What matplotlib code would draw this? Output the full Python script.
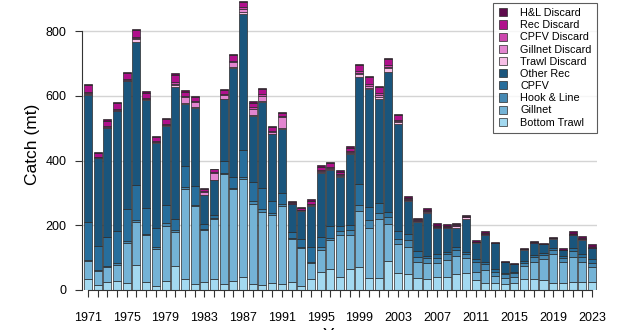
import numpy as np
import matplotlib.pyplot as plt

plt.rcParams['font.family'] = ['Liberation Sans', 'DejaVu Sans']

years = np.arange(1971, 2024)

bottom_trawl = [33, 15, 26, 29, 21, 76, 25, 12, 29, 75,
                33, 17, 25, 33, 19, 28, 41, 19, 14, 23,
                19, 26, 12, 33, 55, 65, 39, 65, 70, 36,
                36, 89, 53, 48, 36, 33, 39, 40, 49, 53,
                31, 23, 23, 19, 21, 33, 33, 31, 23, 23,
                26, 26, 25]
gillnet = [57, 44, 46, 48, 123, 135, 145, 116, 169, 103,
           278, 242, 160, 185, 339, 283, 301, 246, 228, 208,
           240, 133, 117, 49, 70, 91, 131, 105, 174, 156,
           182, 114, 88, 86, 49, 49, 45, 53, 56, 47,
           26, 39, 21, 19, 20, 41, 54, 64, 87, 64,
           77, 61, 47]
hook_line = [2, 3, 3, 5, 6, 4, 3, 5, 8, 7,
             6, 3, 4, 6, 2, 5, 6, 10, 7, 6,
             6, 3, 5, 5, 9, 6, 11, 15, 18, 24,
             19, 23, 16, 22, 18, 16, 16, 18, 20, 11,
             30, 17, 13, 11, 10, 10, 14, 13, 13, 11,
             18, 16, 12]
cpfv = [117, 74, 90, 100, 100, 108, 80, 59, 56, 34,
        67, 59, 15, 7, 39, 34, 86, 59, 67, 39,
        36, 16, 24, 45, 29, 37, 18, 16, 64, 41,
        33, 16, 25, 16, 18, 8, 10, 7, 9, 5,
        8, 6, 7, 4, 6, 5, 7, 5, 6, 7,
        8, 8, 11]
other_rec = [394, 272, 336, 370, 395, 443, 335, 263, 245, 408,
             192, 242, 89, 108, 190, 337, 419, 204, 265, 205,
             196, 87, 87, 128, 197, 171, 149, 219, 332, 365,
             321, 432, 332, 103, 90, 133, 82, 74, 58, 103,
             51, 85, 80, 32, 22, 36, 38, 28, 30, 18,
             41, 45, 34]
trawl_discard = [2, 1, 1, 2, 2, 8, 1, 1, 2, 6,
                 2, 2, 1, 1, 2, 3, 6, 2, 2, 2,
                 2, 1, 1, 2, 5, 3, 3, 4, 10, 3,
                 4, 11, 6, 2, 1, 3, 1, 1, 5, 6,
                 1, 1, 0, 0, 0, 1, 0, 0, 1, 0,
                 1, 1, 0]
gillnet_discard = [3, 1, 2, 3, 2, 4, 2, 2, 2, 4,
                   17, 16, 10, 23, 13, 14, 10, 20, 17, 6,
                   36, 1, 1, 3, 3, 4, 3, 2, 3, 4,
                   8, 4, 2, 1, 1, 1, 1, 1, 1, 1,
                   0, 1, 0, 0, 0, 0, 0, 0, 0, 0,
                   0, 0, 0]
cpfv_discard = [4, 2, 3, 3, 3, 4, 3, 2, 3, 5,
                3, 2, 2, 2, 3, 4, 4, 4, 5, 3,
                3, 1, 1, 2, 3, 4, 4, 3, 5, 6,
                5, 5, 3, 2, 2, 1, 1, 1, 2, 1,
                1, 1, 1, 1, 1, 1, 1, 1, 1, 1,
                1, 1, 1]
rec_discard = [20, 11, 16, 17, 18, 20, 16, 12, 13, 23,
               15, 12, 6, 8, 12, 17, 16, 15, 15, 12,
               9, 3, 4, 7, 10, 10, 8, 11, 20, 22,
               18, 21, 17, 4, 3, 3, 2, 2, 3, 2,
               1, 2, 1, 1, 1, 1, 1, 1, 1, 1,
               2, 2, 2]
hl_discard = [6, 4, 4, 4, 4, 5, 4, 3, 3, 5,
              4, 3, 2, 2, 3, 3, 4, 4, 4, 3,
              3, 5, 5, 6, 5, 5, 4, 5, 3, 3,
              3, 3, 3, 6, 6, 5, 9, 7, 5, 4,
              5, 7, 3, 2, 3, 3, 3, 3, 3, 4,
              8, 8, 9]

series = [
    ('Bottom Trawl', bottom_trawl, '#a3d9f0'),
    ('Gillnet', gillnet, '#74b3d6'),
    ('Hook & Line', hook_line, '#4689b3'),
    ('CPFV', cpfv, '#276e9c'),
    ('Other Rec', other_rec, '#1a557c'),
    ('Trawl Discard', trawl_discard, '#f7bfe6'),
    ('Gillnet Discard', gillnet_discard, '#e385d0'),
    ('CPFV Discard', cpfv_discard, '#cc45ad'),
    ('Rec Discard', rec_discard, '#b0108c'),
    ('H&L Discard', hl_discard, '#5e0b4c'),
]

fig = plt.figure(figsize=(6.19, 3.30), dpi=100)
ax = fig.add_axes([82/619, 40/330, 515/619, 290/330])

bottom = np.zeros(len(years))
handles = []
for name, vals, col in series:
    vals = np.array(vals, dtype=float)
    b = ax.bar(years, vals, 0.83, bottom=bottom, color=col,
               edgecolor='#2a2a2a', linewidth=0.5, label=name, zorder=2)
    handles.append(b)
    bottom += vals

ax.set_ylim(0, 896)
ax.set_xlim(1971 - 0.62, 2023 + 0.52)

for y in [200, 400, 600, 800]:
    ax.axhline(y, color='#d4d4d4', linewidth=1, zorder=0)

for s in ['top', 'right']:
    ax.spines[s].set_visible(False)
ax.spines['left'].set_bounds(0, 800)
ax.spines['bottom'].set_bounds(1971, 2023)
ax.spines['left'].set_color('#333333')
ax.spines['bottom'].set_color('#333333')

ax.set_yticks([0, 200, 400, 600, 800])
ax.set_xticks(years)
ax.set_xticklabels([str(y) if (y - 1971) % 4 == 0 else '' for y in years])
ax.tick_params(axis='x', length=5, width=0.8, labelsize=9, pad=11, color='#333333')
ax.tick_params(axis='y', length=5, width=0.8, labelsize=9, pad=6, color='#333333')

fig.text(33/619, 1 - 144/330, 'Catch (mt)', rotation=90, fontsize=12.5,
         ha='center', va='center')
fig.text(340/619, 1 - 335/330, 'Year', fontsize=12.5, ha='center', va='center')

leg = fig.legend(handles[::-1], [s[0] for s in series][::-1],
                 loc='lower right', bbox_to_anchor=(597/619, 1 - 133/330),
                 fontsize=7.8, frameon=True, fancybox=False, edgecolor='#333333',
                 handlelength=0.8, handleheight=0.8, labelspacing=0.2,
                 borderpad=0.5, handletextpad=1.2, borderaxespad=0)
leg.get_frame().set_linewidth(0.8)

fig.savefig('out.png', dpi=100)
